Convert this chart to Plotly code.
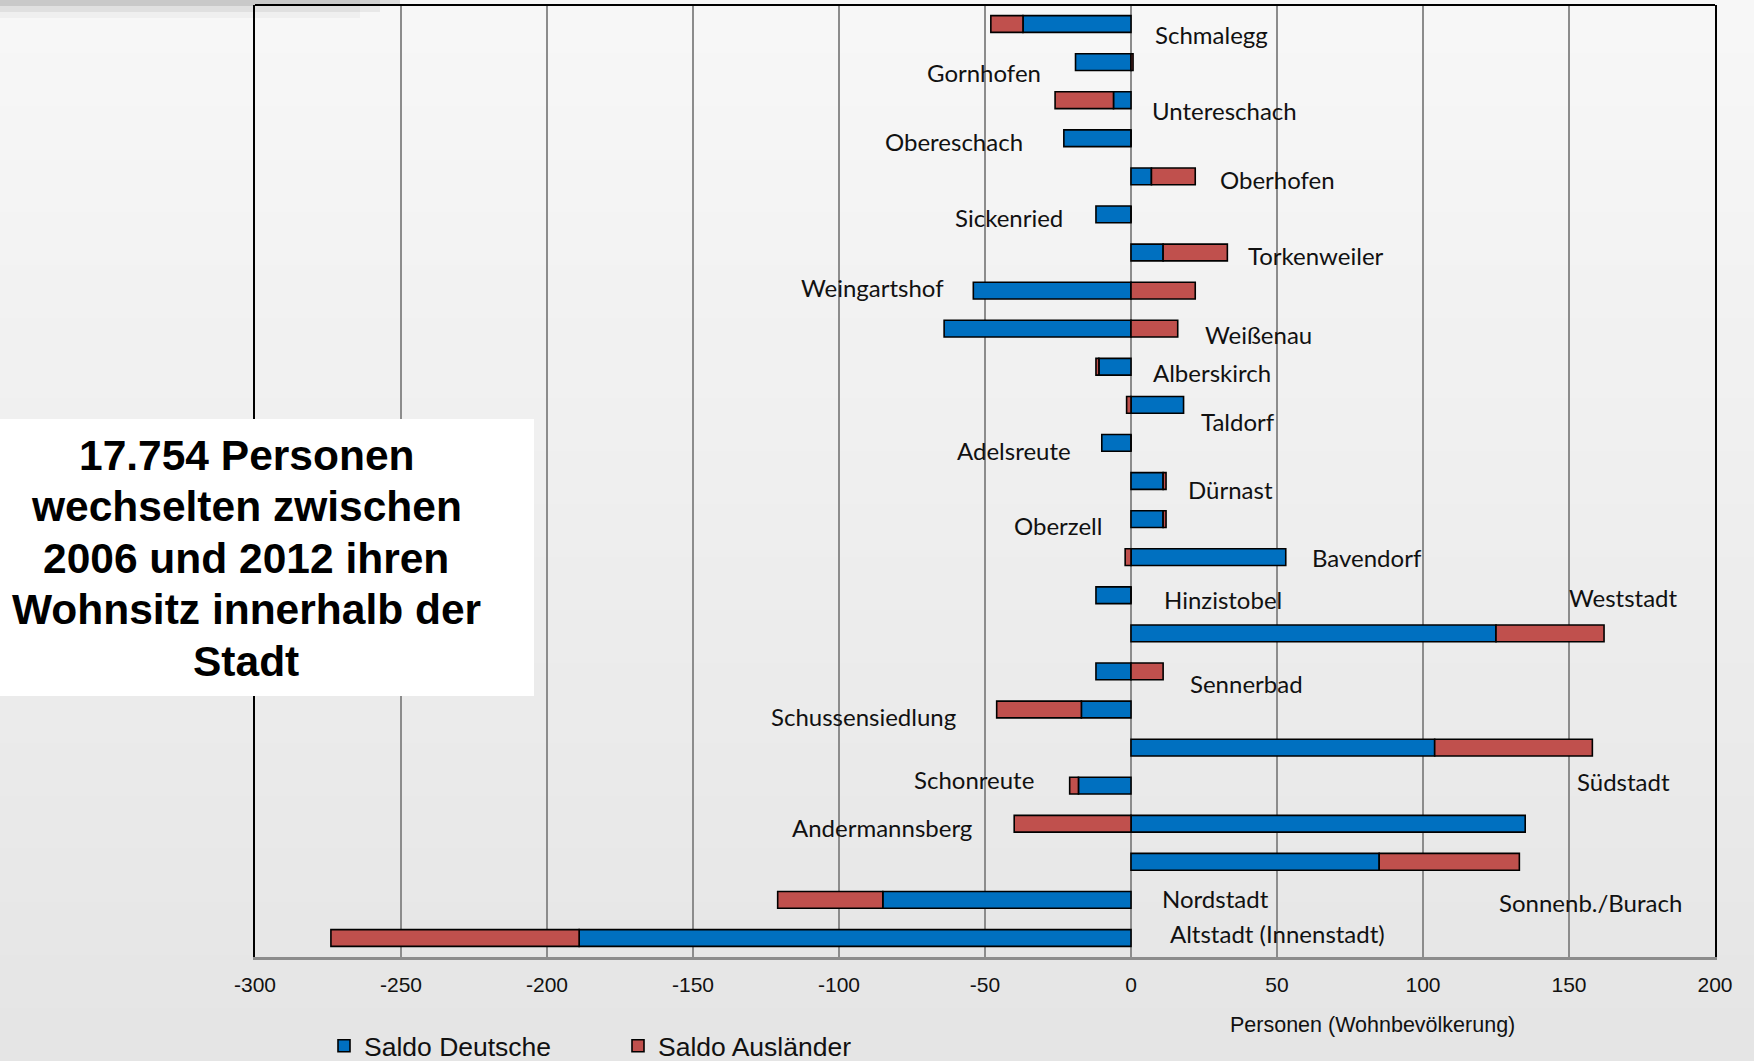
import plotly.graph_objects as go

# ---------------- data ----------------
categories = ["Schmalegg", "Gornhofen", "Untereschach", "Obereschach", "Oberhofen",
              "Sickenried", "Torkenweiler", "Weingartshof", "Weißenau", "Alberskirch",
              "Taldorf", "Adelsreute", "Dürnast", "Oberzell", "Bavendorf",
              "Hinzistobel", "Weststadt", "Sennerbad", "Schussensiedlung", "Südstadt",
              "Schonreute", "Andermannsberg", "Sonnenb./Burach", "Nordstadt",
              "Altstadt (Innenstadt)"]
saldo_deutsche = [-37, -19, -6, -23, 7, -12, 11, -54, -64, -11, 18, -10, 11, 11, 53,
                  -12, 125, -12, -17, 104, -18, 135, 85, -85, -189]
saldo_auslaender = [-11, 0.7, -20, 0, 15, 0, 22, 22, 16, -1, -1.5, 0, 1, 1, -2,
                    0, 37, 11, -29, 54, -3, -40, 48, -36, -85]
series_names = ["Saldo Deutsche", "Saldo Ausländer"]
tick_values = [-300, -250, -200, -150, -100, -50, 0, 50, 100, 150, 200]
tick_labels = ["-300", "-250", "-200", "-150", "-100", "-50", "0", "50", "100", "150", "200"]
x_title = "Personen (Wohnbevölkerung)"
box_lines = ["17.754 Personen", "wechselten zwischen", "2006 und 2012 ihren",
             "Wohnsitz innerhalb der", "Stadt"]

# label placement (data-x of label centre, pixel offset downward from bar centre)
label_x = [27.6, -50.5, 32.1, -60.5, 50.1, -41.7, 63.5, -88.4, 43.6, 27.6,
           36.7, -40.2, 34.1, -24.9, 80.8, 31.4, 168.8, 39.4, -91.5, 168.8,
           -53.6, -85.3, 157.3, 29.1, 50.1]
label_dy = [10, 10, 10, 3, 3, 3, 3, -3, 6, 6, 17, 8, 8, 6, 0, 4, -36, 12, 7, 34,
            -6, 4, 41, -1, -4]

# ---------------- styling ----------------
W, H = 1754, 1061
ML, MR, MT, MB = 255, 39, 5, 104
PW, PH = W - ML - MR, H - MT - MB
BLUE = "#0070C0"
RED = "#C0504D"
GRID = "#8c8c8c"


def px_to_paper_x(px):
    return (px - ML) / PW


def px_to_paper_y(py):
    return 1 - (py - MT) / PH


fig = go.Figure()
fig.add_trace(go.Bar(y=categories, x=saldo_deutsche, name=series_names[0], orientation="h",
                     marker=dict(color=BLUE, line=dict(color="black", width=1.6))))
fig.add_trace(go.Bar(y=categories, x=saldo_auslaender, name=series_names[1], orientation="h",
                     marker=dict(color=RED, line=dict(color="black", width=1.6))))

shapes = []
# background gradient
n = 40
for i in range(n):
    c = int(round(247 - (247 - 229) * i / (n - 1)))
    y_top = i * H / n
    y_bot = (i + 1) * H / n + 1
    shapes.append(dict(type="rect", xref="paper", yref="paper", layer="below",
                       x0=px_to_paper_x(0), x1=px_to_paper_x(W),
                       y0=px_to_paper_y(y_bot), y1=px_to_paper_y(y_top),
                       fillcolor=f"rgb({c},{c},{c})", line=dict(width=0)))
# top-left shadow
for k, a in enumerate([0.10, 0.06, 0.03]):
    shapes.append(dict(type="rect", xref="paper", yref="paper", layer="below",
                       x0=px_to_paper_x(0), x1=px_to_paper_x(400 - 20 * k),
                       y0=px_to_paper_y(6 + 6 * k), y1=px_to_paper_y(0),
                       fillcolor=f"rgba(0,0,0,{a})", line=dict(width=0)))
# top border
shapes.append(dict(type="line", xref="paper", yref="paper", x0=0, x1=1, y0=1, y1=1,
                   line=dict(color="black", width=2), layer="above"))
# white text box
shapes.append(dict(type="rect", xref="paper", yref="paper", layer="above",
                   x0=px_to_paper_x(0), x1=px_to_paper_x(534),
                   y0=px_to_paper_y(696), y1=px_to_paper_y(419),
                   fillcolor="white", line=dict(width=0)))

annotations = []
for cat, lx, dy in zip(categories, label_x, label_dy):
    annotations.append(dict(x=lx, y=cat, xref="x", yref="y", text=cat, showarrow=False,
                            xanchor="center", yanchor="middle", yshift=-dy,
                            font=dict(family="Lato, Open Sans, sans-serif", size=24, color="#111")))
annotations.append(dict(x=px_to_paper_x(1372), y=px_to_paper_y(1025), xref="paper", yref="paper",
                        text=x_title, showarrow=False, xanchor="center", yanchor="middle",
                        font=dict(family="Liberation Sans, Arial, sans-serif", size=21.5, color="#111")))
box_line_y0, box_line_step = 455.5, 51.4
for i, line in enumerate(box_lines):
    annotations.append(dict(x=px_to_paper_x(246), y=px_to_paper_y(box_line_y0 + i * box_line_step),
                            xref="paper", yref="paper", text=line, showarrow=False,
                            xanchor="center", yanchor="middle",
                            font=dict(family="Liberation Sans, Arial, sans-serif", size=42.5,
                                      color="black", weight="bold")))

fig.update_layout(
    width=W, height=H,
    margin=dict(l=ML, r=MR, t=MT, b=MB, autoexpand=False),
    paper_bgcolor="#eeeeee",
    plot_bgcolor="rgba(0,0,0,0)",
    barmode="relative",
    bargap=0.56,
    shapes=shapes,
    annotations=annotations,
    showlegend=True,
    legend=dict(orientation="h", x=px_to_paper_x(324), y=px_to_paper_y(1046),
                xanchor="left", yanchor="middle", bgcolor="rgba(0,0,0,0)",
                entrywidth=249, entrywidthmode="pixels",
                font=dict(family="Liberation Sans, Arial, sans-serif", size=26.5, color="#111"),
                traceorder="normal"),
    xaxis=dict(range=[-300, 200], tickvals=tick_values, ticktext=tick_labels,
               showgrid=True, gridcolor=GRID, gridwidth=1.5, zeroline=False,
               showline=True, linecolor=GRID, linewidth=3, ticks="",
               ticklabelstandoff=7,
               tickfont=dict(family="Liberation Sans, Arial, sans-serif", size=21, color="#111")),
    yaxis=dict(categoryorder="array", categoryarray=categories,
               range=[len(categories) - 0.5, -0.5], autorange=False,
               showticklabels=False, showgrid=False, zeroline=False,
               showline=True, linecolor="black", linewidth=2, mirror=True, ticks=""),
)

fig.write_html("out.html", config={"displayModeBar": False},
               post_script="document.body.style.margin='0';document.body.style.overflow='hidden';")
